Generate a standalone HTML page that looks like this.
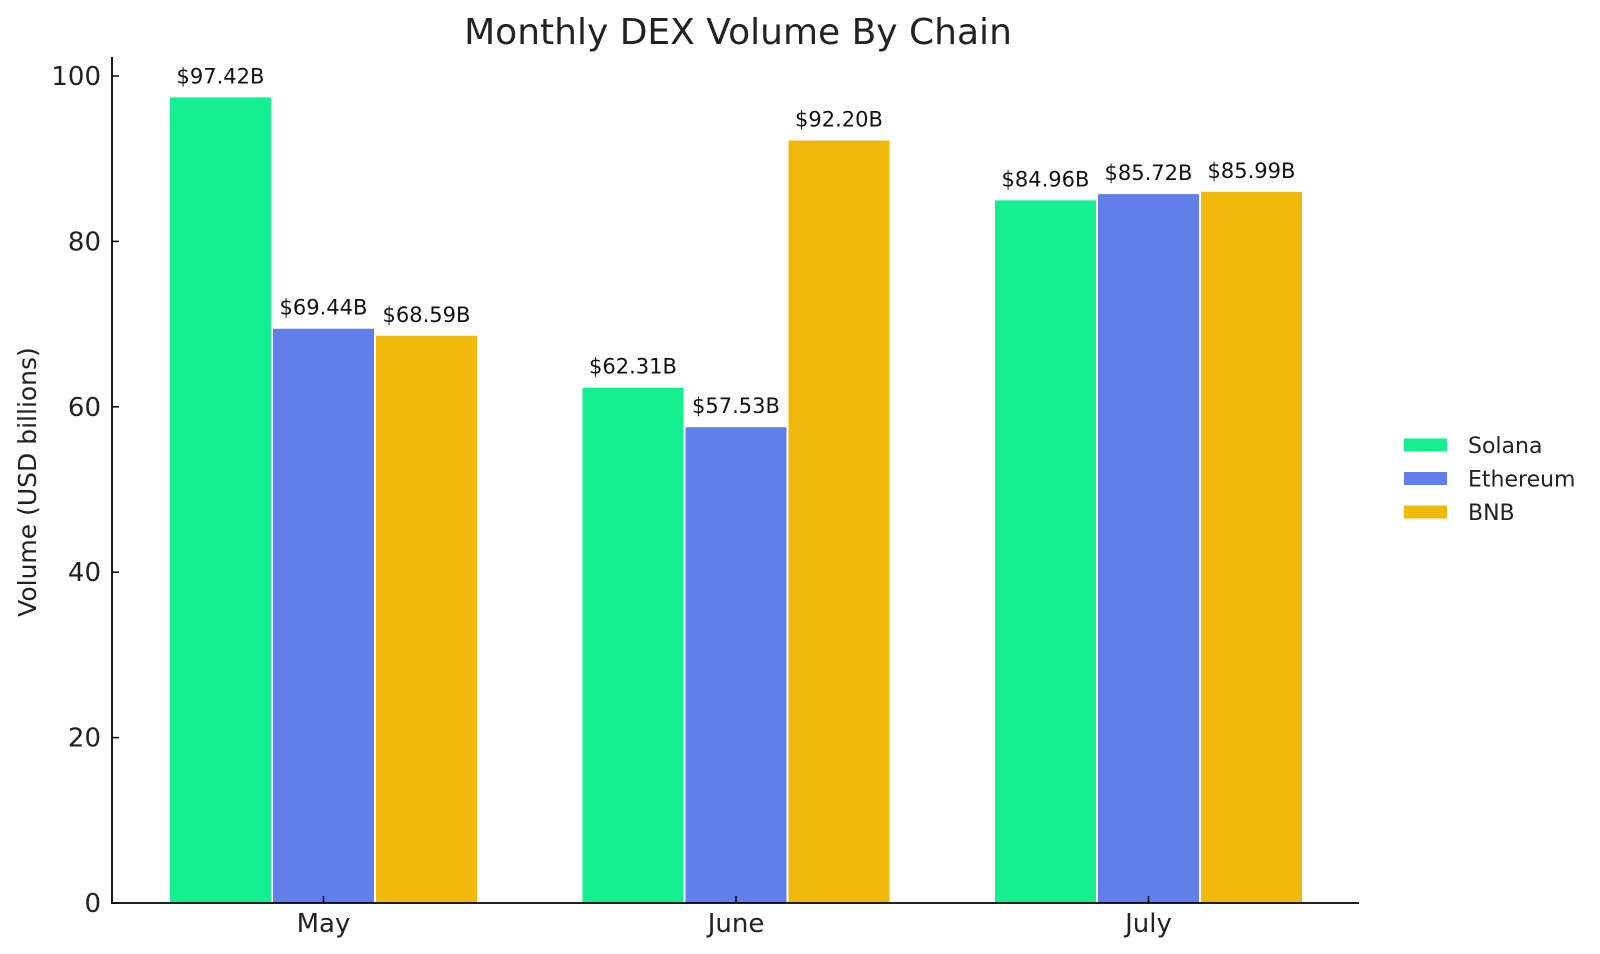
<!DOCTYPE html>
<html><head><meta charset="utf-8"><style>
body{margin:0;background:#fff;}
svg{display:block;font-family:"DejaVu Sans","Liberation Sans",sans-serif;}
</style></head><body>
<svg id="chart" width="1600" height="954" viewBox="0 0 1600 954">
<text x="738" y="44" text-anchor="middle" font-size="36" fill="#222">Monthly DEX Volume By Chain</text>
<text transform="translate(36,482) rotate(-90)" text-anchor="middle" font-size="25" fill="#222">Volume (USD billions)</text>
<g id="bars"></g>
<g id="yticks"></g>
<g id="xticks"></g>
<line x1="112" y1="57" x2="112" y2="904" stroke="#000" stroke-width="1.8"/>
<line x1="111" y1="903" x2="1359" y2="903" stroke="#000" stroke-width="1.8"/>
<g id="legend"></g>
</svg>
<script>
const categories = ["May", "June", "July"];
const seriesNames = ["Solana", "Ethereum", "BNB"];
const solana = [97.42, 62.31, 84.96];
const ethereum = [69.44, 57.53, 85.72];
const bnb = [68.59, 92.20, 85.99];
const yTicks = [0, 20, 40, 60, 80, 100];
const colors = ["#14F08F", "#627EEA", "#F0B90B"];
const series = [solana, ethereum, bnb];
const NS = "http://www.w3.org/2000/svg";
const y0 = 903, pxPerUnit = 8.27;
const yScale = v => y0 - v * pxPerUnit;
const groupCenter = i => 323.5 + i * 412.5;
const barW = 101, step = 103;
function mk(tag, attrs, parent, text){
  const e = document.createElementNS(NS, tag);
  for (const k in attrs) e.setAttribute(k, attrs[k]);
  if (text !== undefined) e.textContent = text;
  parent.appendChild(e); return e;
}
const bars = document.getElementById('bars');
series.forEach((vals, s) => {
  vals.forEach((v, i) => {
    const x = groupCenter(i) + (s - 1) * step - barW / 2;
    const r = mk('rect', {x: x, y: yScale(v), width: barW, height: y0 - yScale(v), fill: colors[s]}, bars);
    
    
    const t = mk('text', {x: x + barW / 2, y: yScale(v) - 14, 'text-anchor': 'middle', 'font-size': 21, fill: '#111'}, bars, '$' + v.toFixed(2) + 'B');
    
    
  });
});
const yt = document.getElementById('yticks');
yTicks.forEach(v => {
  const l = mk('line', {x1: 112, x2: 119, y1: yScale(v), y2: yScale(v), stroke: '#000', 'stroke-width': 1.5}, yt);
  
  
  const t = mk('text', {x: 101, y: yScale(v) + 9, 'text-anchor': 'end', 'font-size': 26, fill: '#222'}, yt, String(v));
  
  
});
const xt = document.getElementById('xticks');
categories.forEach((c, i) => {
  const l = mk('line', {x1: groupCenter(i), x2: groupCenter(i), y1: 896, y2: 903, stroke: '#000', 'stroke-width': 1.5}, xt);
  
  
  const t = mk('text', {x: groupCenter(i), y: 932, 'text-anchor': 'middle', 'font-size': 26, fill: '#222'}, xt, c);
  
  
});
const lg = document.getElementById('legend');
seriesNames.forEach((n, s) => {
  const y = 445 + s * 33.5;
  const r = mk('rect', {x: 1404, y: y - 6.5, width: 43, height: 13, fill: colors[s]}, lg);
  
  
  const t = mk('text', {x: 1468, y: y + 8, 'font-size': 22, fill: '#222'}, lg, n);
  
  
});
</script>
</body></html>
